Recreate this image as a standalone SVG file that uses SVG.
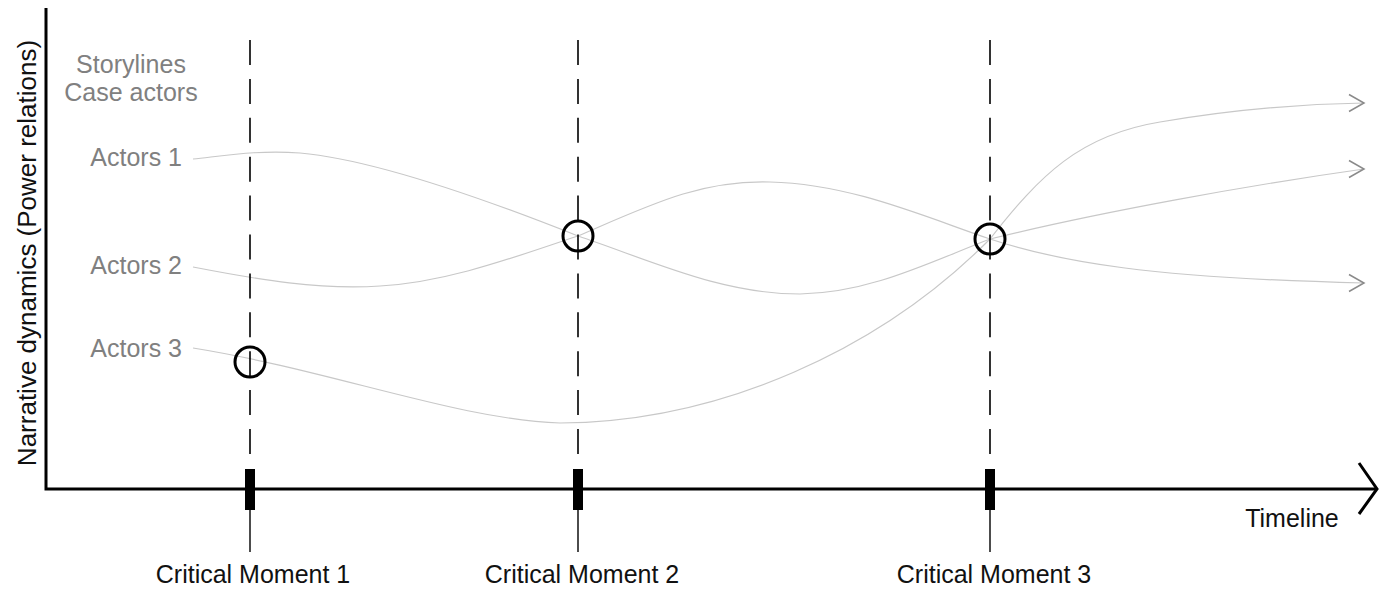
<svg xmlns="http://www.w3.org/2000/svg" width="1384" height="590" viewBox="0 0 1384 590">
<style>
.lbl{font-family:"Liberation Sans",Arial,sans-serif;font-size:25px;fill:#111}
.gry{fill:#808080}
.axis{fill:none;stroke:#000;stroke-width:3;stroke-linejoin:miter}
.dash{stroke:#000;stroke-width:1.6;stroke-dasharray:25 13.9}
.stem{stroke:#000;stroke-width:1.4}
.tick{fill:#000}
.ring{fill:none;stroke:#000;stroke-width:3}
.story{fill:none;stroke:#c8c8c8;stroke-width:1.2}
.head{fill:none;stroke:#8a8a8a;stroke-width:1.5}
</style>
<defs>
<marker id="chev" markerUnits="userSpaceOnUse" markerWidth="20" markerHeight="24" refX="16" refY="10" orient="0">
<polyline class="head" points="1,1.5 16,10 1,18.5"/>
</marker>
</defs>
<rect width="1384" height="590" fill="#fff"/>
<g id="axes">
<polyline class="axis" points="46,8 46,489 1377,489"/>
<polyline class="axis" points="1359,463 1377,489 1359,514"/>
<text class="lbl" style="font-size:26px" transform="translate(36,253) rotate(-90)" text-anchor="middle">Narrative dynamics (Power relations)</text>
<text class="lbl" x="1292" y="527" text-anchor="middle">Timeline</text>
</g>
<g id="legend">
<text class="lbl gry" x="131" y="73" text-anchor="middle">Storylines</text>
<text class="lbl gry" x="131" y="101" text-anchor="middle">Case actors</text>
</g>
<g id="actors1"><text class="lbl gry" x="182" y="166" text-anchor="end">Actors 1</text></g>
<g id="actors2"><text class="lbl gry" x="182" y="274" text-anchor="end">Actors 2</text></g>
<g id="actors3"><text class="lbl gry" x="182" y="357" text-anchor="end">Actors 3</text></g>
<g id="connectors">
<path class="story" d="M193,159 C230,155 260,150 300,153 C380,160 500,205 578,236"/>
<path class="story" d="M193,267 C260,280 320,290 380,286 C450,282 520,255 578,236"/>
<path class="story" d="M193,348 C330,370 460,420 560,423 C720,422 880,350 990,239"/>
<path class="story" d="M578,236 C650,205 700,180 770,182 C850,184 920,215 990,239"/>
<path class="story" d="M578,236 C650,260 720,294 800,294 C870,293 930,262 990,239"/>
<path class="story" d="M990,239 C1040,175 1080,135 1160,122 C1230,110 1300,104 1364,103" marker-end="url(#chev)"/>
<path class="story" d="M990,239 C1100,212 1250,185 1364,169" marker-end="url(#chev)"/>
<path class="story" d="M990,239 C1060,262 1150,278 1364,283" marker-end="url(#chev)"/>
</g>
<g id="moment1">
<line class="dash" x1="250" y1="40" x2="250" y2="455"/>
<rect class="tick" x="245" y="469" width="10" height="41"/>
<line class="stem" x1="250" y1="510" x2="250" y2="552"/>
<text class="lbl" x="253" y="583" text-anchor="middle">Critical Moment 1</text>
</g>
<g id="moment2">
<line class="dash" x1="578" y1="40" x2="578" y2="455"/>
<rect class="tick" x="573" y="469" width="10" height="41"/>
<line class="stem" x1="578" y1="510" x2="578" y2="552"/>
<text class="lbl" x="582" y="583" text-anchor="middle">Critical Moment 2</text>
</g>
<g id="moment3">
<line class="dash" x1="990" y1="40" x2="990" y2="455"/>
<rect class="tick" x="985" y="469" width="10" height="41"/>
<line class="stem" x1="990" y1="510" x2="990" y2="552"/>
<text class="lbl" x="994" y="583" text-anchor="middle">Critical Moment 3</text>
</g>
<g id="event1"><circle class="ring" cx="250" cy="362" r="15"/></g>
<g id="event2"><circle class="ring" cx="578" cy="236" r="15"/></g>
<g id="event3"><circle class="ring" cx="990" cy="239" r="15"/></g>
</svg>
